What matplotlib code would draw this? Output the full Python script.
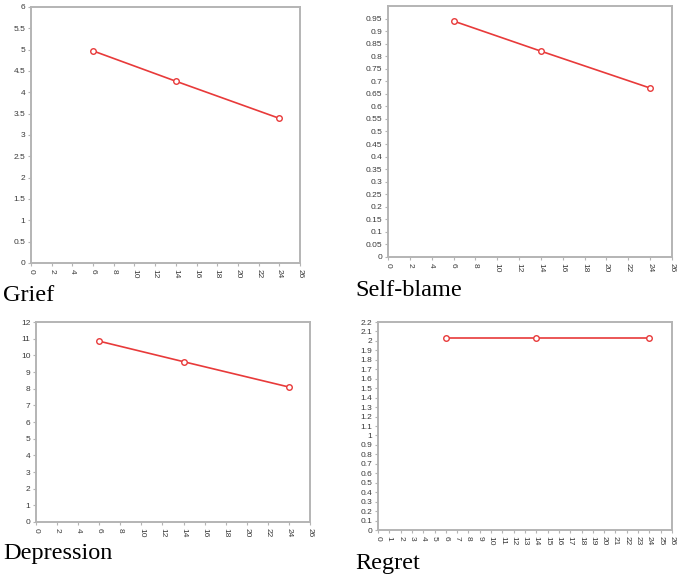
import numpy as np
import matplotlib
matplotlib.use("Agg")
import matplotlib.pyplot as plt

plt.rcParams["font.family"] = ["Liberation Sans", "DejaVu Sans"]

# time points (same for every panel)
weeks = [6, 14, 24]

grief = [4.97, 4.26, 3.39]
self_blame = [0.94, 0.82, 0.673]
depression = [10.85, 9.62, 8.1]
regret = [2.03, 2.03, 2.03]

titles = ["Grief", "Self-blame", "Depression", "Regret"]

LINE_RED = "#e83a3a"
SPINE = "#b4b4b4"
TICK_TXT = "#3a3a3a"


def style_axes(ax, yticks, ylim, xstep):
    ax.set_xlim(0, 26)
    ax.set_ylim(*ylim)
    ax.set_xticks(np.arange(0, 27, xstep))
    ax.set_yticks(yticks)
    ax.set_yticklabels([f"{v:g}" for v in yticks])
    ax.tick_params(axis="x", labelrotation=-90)
    ax.tick_params(labelsize=6, colors=TICK_TXT, length=2.5, width=0.8, pad=1.5)
    ax.tick_params(axis="both", which="both", color=SPINE)
    for s in ax.spines.values():
        s.set_color(SPINE)
        s.set_linewidth(1.4)


def draw(ax, y):
    ax.plot(weeks, y, color=LINE_RED, lw=1.2, marker="o", ms=4,
            mfc="white", mec=LINE_RED, mew=1.0)


fig = plt.figure(figsize=(6.79, 5.80), dpi=100)

ax1 = fig.add_axes([0.0457, 0.5466, 0.3961, 0.4414])
draw(ax1, grief)
style_axes(ax1, np.arange(0, 6.01, 0.5), (0, 6), 2)

ax2 = fig.add_axes([0.5714, 0.5569, 0.4183, 0.4328])
draw(ax2, self_blame)
style_axes(ax2, np.round(np.arange(0, 0.951, 0.05), 2), (0, 1.0), 2)

ax3 = fig.add_axes([0.0530, 0.1000, 0.4035, 0.3448])
draw(ax3, depression)
style_axes(ax3, np.arange(0, 13, 1), (0, 12), 2)

ax4 = fig.add_axes([0.5567, 0.0862, 0.4330, 0.3586])
draw(ax4, regret)
style_axes(ax4, np.round(np.arange(0, 2.201, 0.1), 1), (0, 2.2), 1)

# panel captions
serif = ["Liberation Serif", "DejaVu Serif"]
fig.text(3 / 679, 1 - 285 / 580, titles[0], family=serif, fontsize=17.5, va="top")
fig.text(355 / 679, 1 - 280 / 580, titles[1], family=serif, fontsize=17.5, va="top")
fig.text(3 / 679, 1 - 543 / 580, titles[2], family=serif, fontsize=17.5, va="top")
fig.text(355 / 679, 1 - 553 / 580, titles[3], family=serif, fontsize=17.5, va="top")

fig.savefig("out.png", dpi=100)
